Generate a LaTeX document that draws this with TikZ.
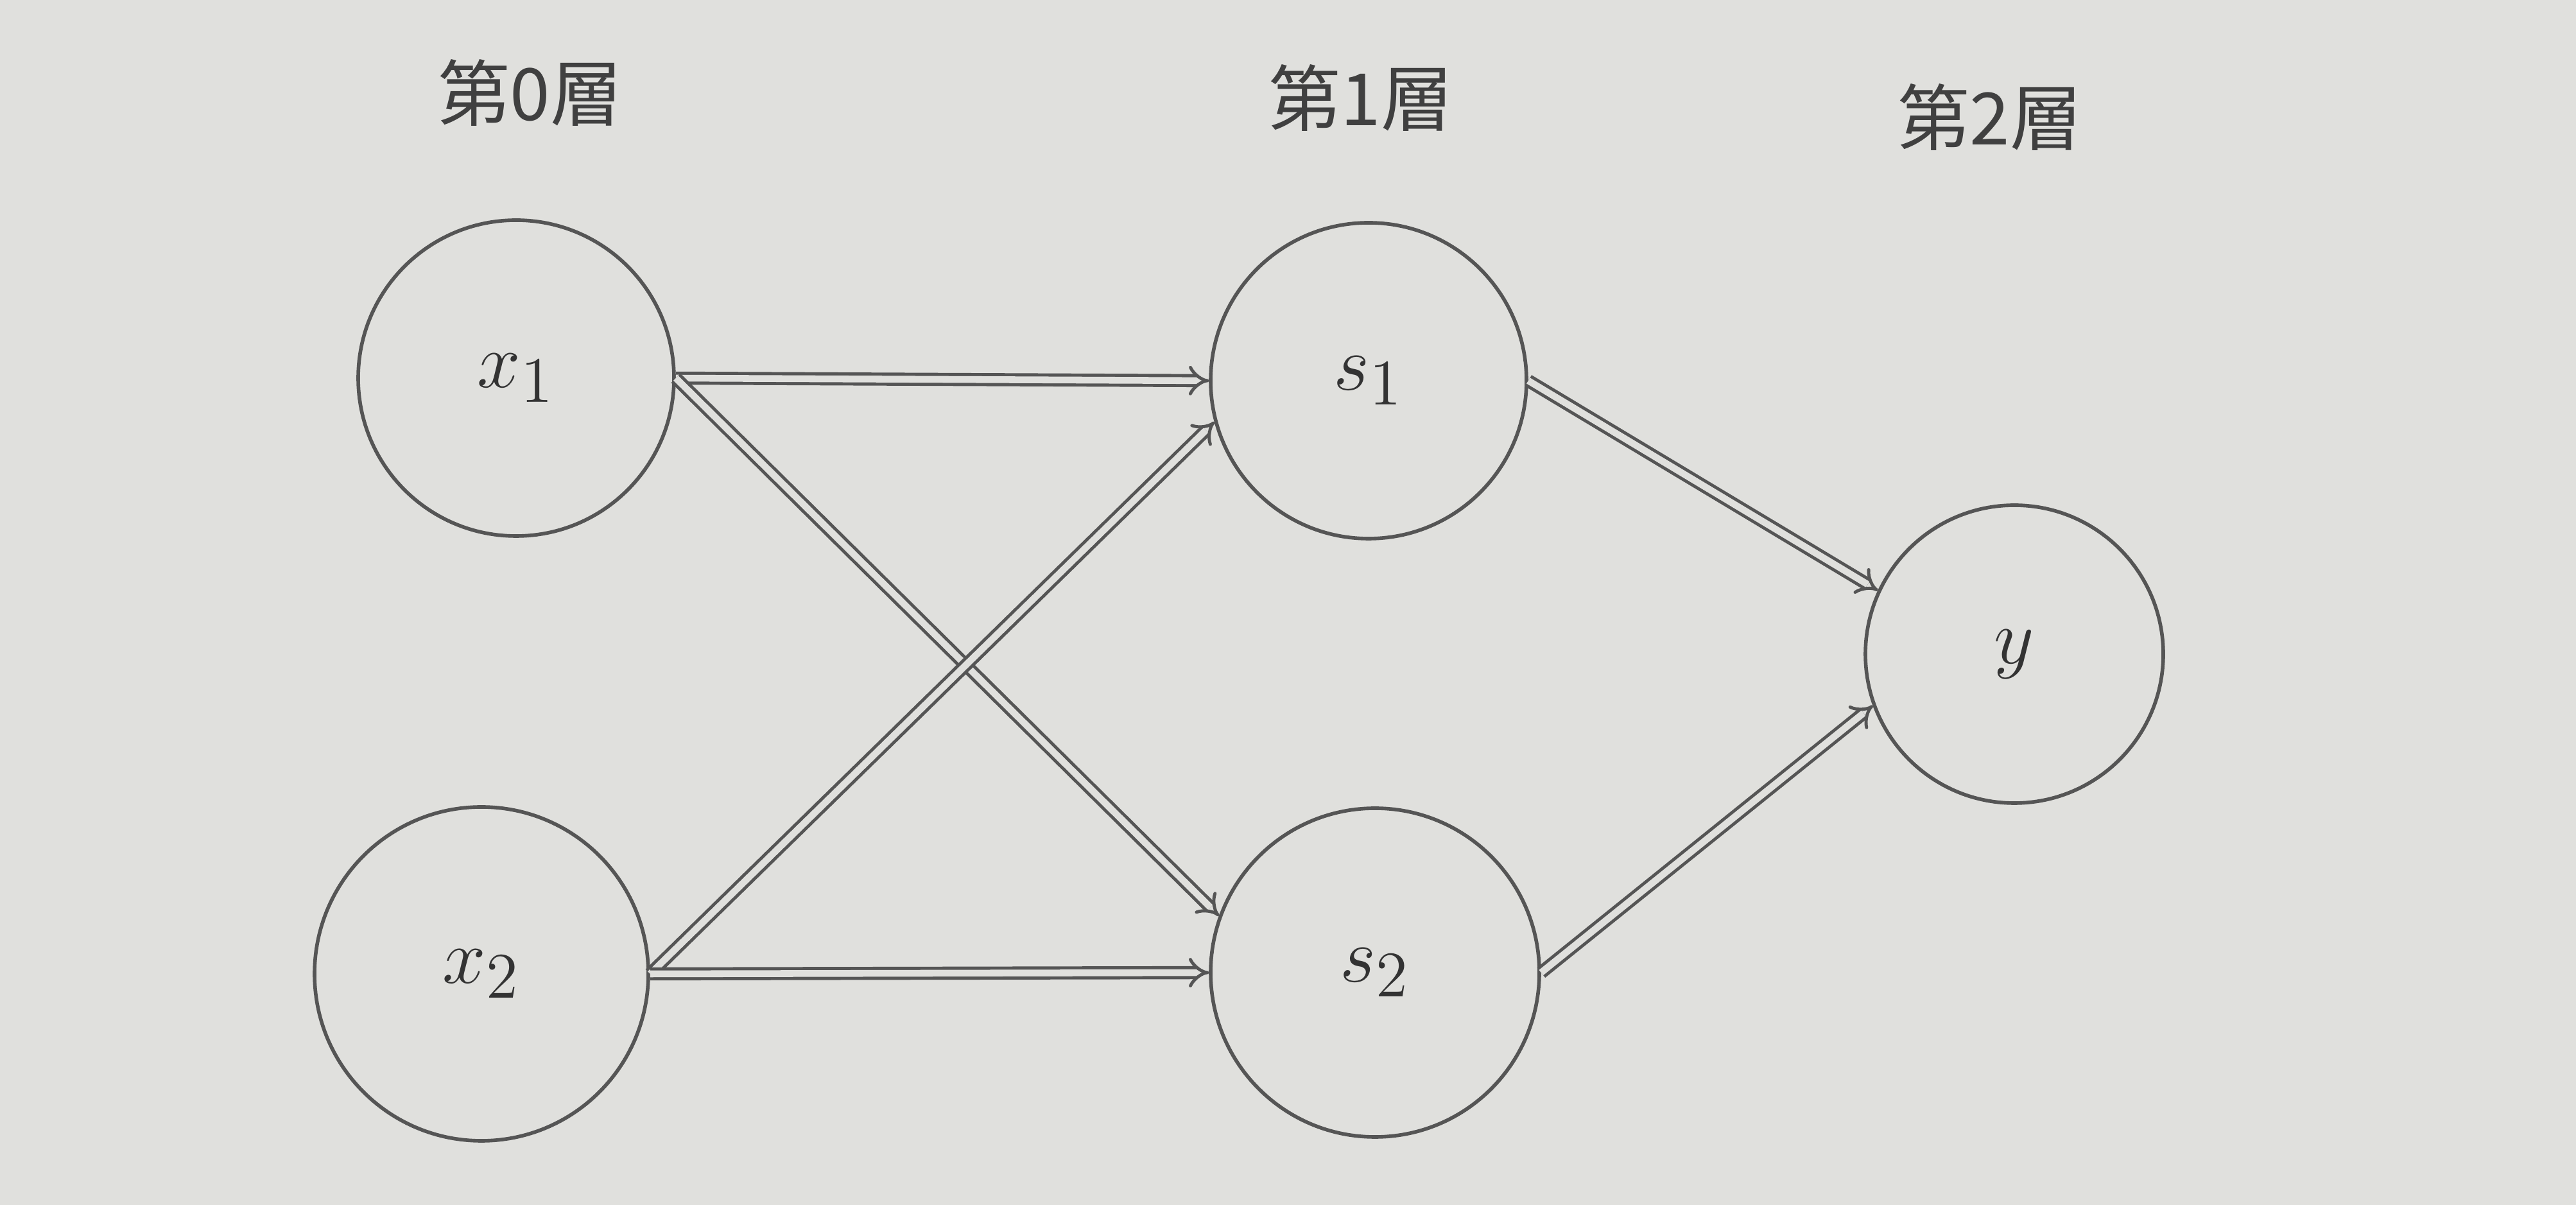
\documentclass[tikz,border=0pt]{standalone}
\usepackage{fontspec}
\usepackage{xcolor}
\newfontfamily\cjkfont{Noto Sans CJK JP}
\usetikzlibrary{arrows.meta, positioning}

\definecolor{paper}{RGB}{224,224,221}
\definecolor{ink}{RGB}{85,85,85}

\begin{document}
\begin{tikzpicture}[>={Implies}, 
    neuron/.style={draw=ink, line width=0.8pt, circle, minimum size=2.46cm, inner sep=0pt, text=black!80, font=\fontsize{19}{21}\selectfont},
    layer/.style={text=black!75, font=\cjkfont\fontsize{16}{18}\selectfont},
    link/.style={->, draw=ink, double=paper, line width=0.7pt, double distance=1.5pt}]

    % Page background
    \useasboundingbox[fill=paper] (0,0) rectangle (20.065,9.385);

    % Layer titles
    \node [layer] (l0) at (4.13, 8.66) {第0層};
    \node [layer] (l1) at (10.60, 8.62) {第1層};
    \node [layer] (l2) at (15.50, 8.47) {第2層};

    % Layer 0: inputs
    \node [neuron] (x1) at (4.02, 6.44) {$x_1$};
    \node [neuron, minimum size=2.6cm] (x2) at (3.75, 1.80) {$x_2$};

    % Layer 1
    \node [neuron] (s1) at (10.66, 6.42) {$s_1$};
    \node [neuron, minimum size=2.56cm] (s2) at (10.71, 1.81) {$s_2$};

    % Layer 2: output
    \node [neuron, minimum size=2.32cm] (y) at (15.69, 4.29) {$y$};

    % Connections 0 -> 1
    \draw [link] (x1.east) -- (s1.west);
    \draw [link] (x1.east) -- (s2.160);
    \draw [link] (x2.east) -- (s1.195);
    \draw [link] (x2.east) -- (s2.west);

    % Connections 1 -> 2
    \draw [link] (s1.east) -- (y.155);
    \draw [link] (s2.east) -- (y.200);

\end{tikzpicture}
\end{document}
